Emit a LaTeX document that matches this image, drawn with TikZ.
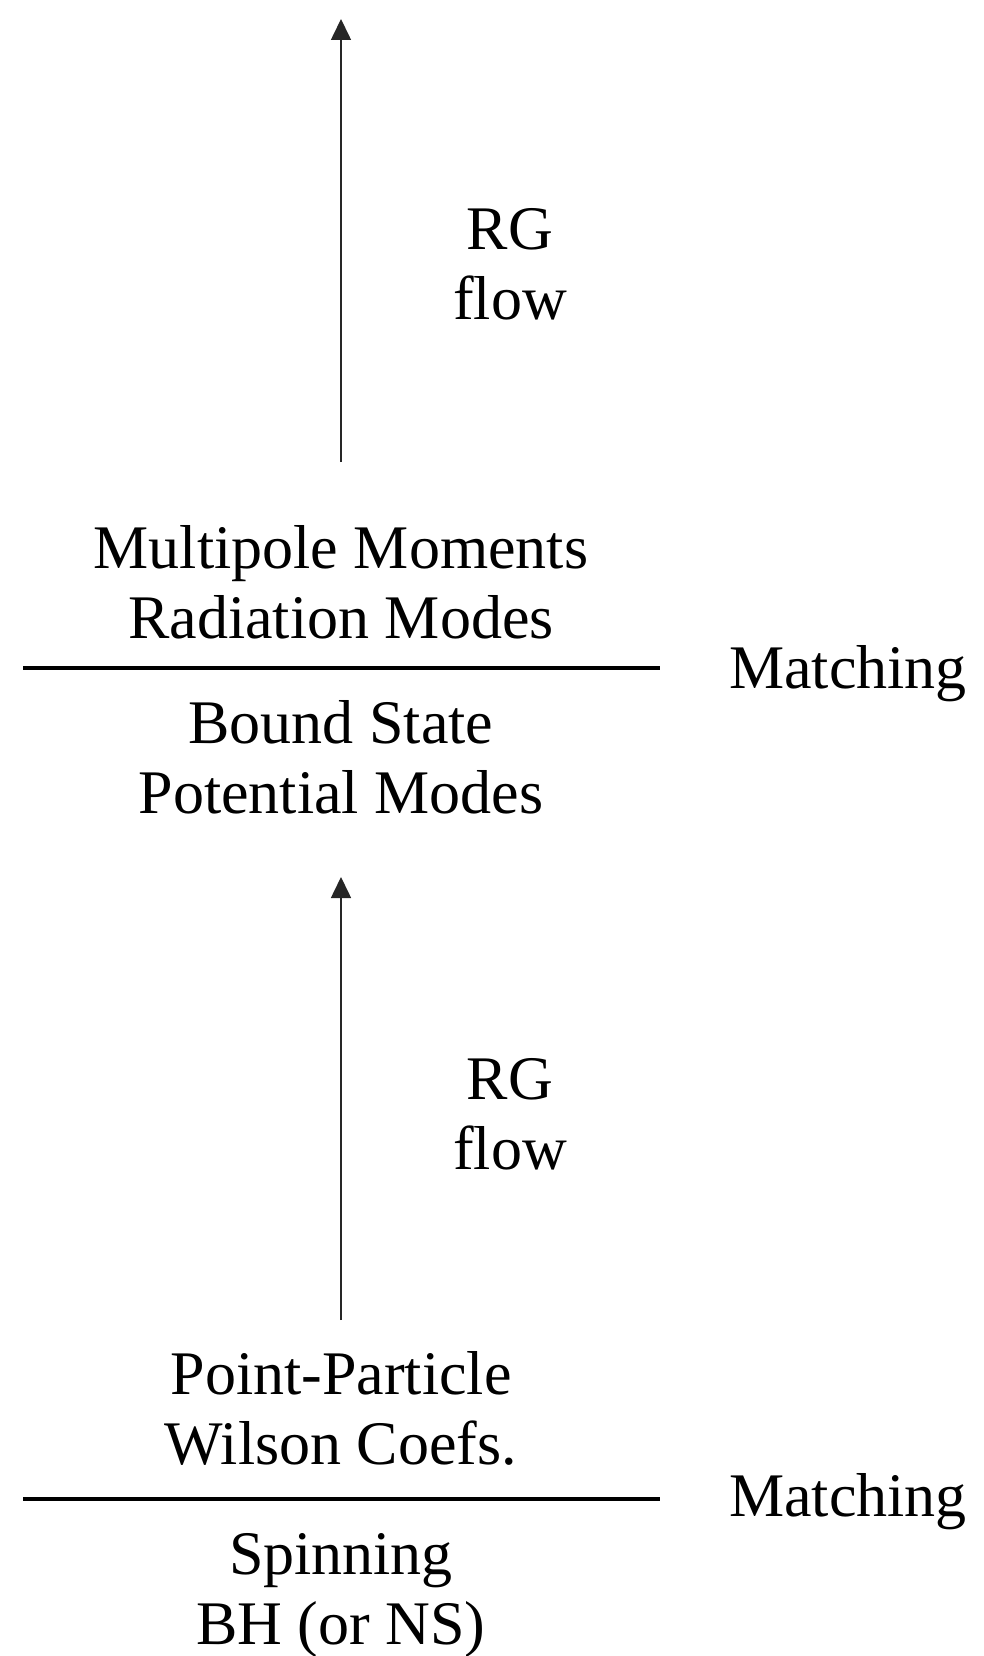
\documentclass[tikz,border=0pt]{standalone}
\usepackage{fontspec}
\setmainfont{Liberation Serif}
\usetikzlibrary{arrows.meta}
\begin{document}
\begin{tikzpicture}[x=1pt,y=-1pt,
  lbl/.style={font=\fontsize{62}{70}\selectfont, align=center, inner sep=0pt},
  flowarrow/.style={line width=1.6pt, draw=black!85, -{Triangle[width=20pt,length=21pt]}},
  sepline/.style={line width=3.5pt}]
\useasboundingbox (0,0) rectangle (983,1656);
% top block
\node[lbl] (rg1) at (510,264) {RG\\flow};
\node[lbl] (mm) at (341,582) {Multipole Moments\\Radiation Modes};
\node[lbl] (bs) at (341,757) {Bound State\\Potential Modes};
\node[lbl] (m1) at (848,674) {Matching};
\coordinate (a1s) at (341,462);
\coordinate (a1e) at (341,19);
\draw[flowarrow] (a1s) -- (a1e);
\coordinate (l1a) at (23,668);
\coordinate (l1b) at (660,668);
\draw[sepline] (l1a) -- (l1b);
% bottom block
\node[lbl] (rg2) at (510,1114) {RG\\flow};
\node[lbl] (pp) at (341,1408) {Point-Particle\\Wilson Coefs.};
\node[lbl] (sp) at (341,1596) {Spinning\\BH (or NS)};
\node[lbl] (m2) at (848,1502) {Matching};
\coordinate (a2s) at (341,1320);
\coordinate (a2e) at (341,877);
\draw[flowarrow] (a2s) -- (a2e);
\coordinate (l2a) at (23,1499);
\coordinate (l2b) at (660,1499);
\draw[sepline] (l2a) -- (l2b);
\end{tikzpicture}
\end{document}
